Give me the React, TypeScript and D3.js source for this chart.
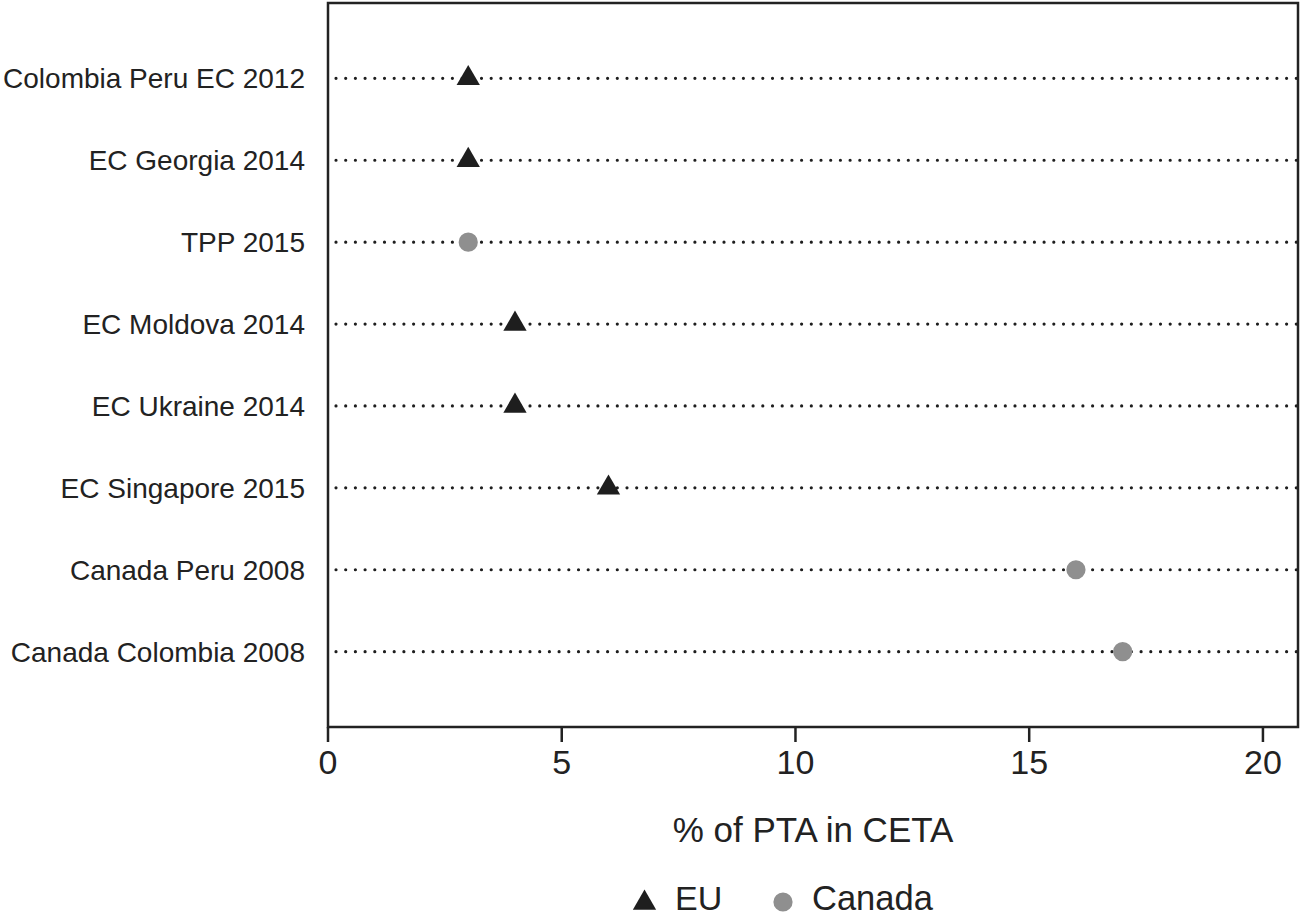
import React from "react";
import * as d3 from "d3";

const categories = [
  "Colombia Peru EC 2012",
  "EC Georgia 2014",
  "TPP 2015",
  "EC Moldova 2014",
  "EC Ukraine 2014",
  "EC Singapore 2015",
  "Canada Peru 2008",
  "Canada Colombia 2008",
];
const values = [3, 3, 3, 4, 4, 6, 16, 17];
const groups = ["EU", "EU", "Canada", "EU", "EU", "EU", "Canada", "Canada"];
const xTicks = [0, 5, 10, 15, 20];
const legendItems = ["EU", "Canada"];
const axisTitle = "% of PTA in CETA";

const W = 1303;
const H = 918;
const left = 328;
const right = 1298;
const top = 3;
const bottom = 727;
const FONT = "'Liberation Sans', Arial, Helvetica, sans-serif";
const DARK = "#1e1e1e";
const GRAY = "#8f8f8f";

export default function App() {
  const x = d3.scaleLinear().domain([0, 20.75]).range([left, right]);
  const y = d3.scalePoint<string>().domain(categories).range([top, bottom]).padding(0.92);
  const tri = d3.symbol().type(d3.symbolTriangle).size(235)()!;
  const circ = d3.symbol().type(d3.symbolCircle).size(290)()!;

  return (
    <svg
      width={W}
      height={H}
      style={{ position: "absolute", left: 0, top: 0, background: "#fff" }}
      fontFamily={FONT}
    >
      <rect x={0} y={0} width={W} height={H} fill="#fff" />
      {/* dotted guide lines */}
      {categories.map((c) => (
        <line
          key={"g" + c}
          x1={336}
          x2={right}
          y1={y(c)}
          y2={y(c)}
          stroke={DARK}
          strokeWidth={3.2}
          strokeLinecap="round"
          strokeDasharray="0 9.7"
        />
      ))}
      {/* category labels */}
      {categories.map((c) => (
        <text
          key={"l" + c}
          x={305}
          y={(y(c) as number) + 10}
          textAnchor="end"
          fontSize={28}
          fill="#222"
        >
          {c}
        </text>
      ))}
      {/* markers */}
      {categories.map((c, i) => (
        <path
          key={"m" + c}
          d={groups[i] === "EU" ? tri : circ}
          transform={`translate(${x(values[i])},${y(c)})`}
          fill={groups[i] === "EU" ? DARK : GRAY}
        />
      ))}
      {/* frame */}
      <rect
        x={left}
        y={top}
        width={right - left}
        height={bottom - top}
        fill="none"
        stroke="#222"
        strokeWidth={2.5}
      />
      {/* x ticks */}
      {xTicks.map((t) => (
        <g key={"t" + t}>
          <line x1={x(t)} x2={x(t)} y1={bottom} y2={742} stroke="#222" strokeWidth={2.5} />
          <text x={x(t)} y={774} textAnchor="middle" fontSize={34} fill="#222">
            {t}
          </text>
        </g>
      ))}
      <text x={(left + right) / 2} y={842} textAnchor="middle" fontSize={35} fill="#222">
        {axisTitle}
      </text>
      {/* legend */}
      <path d={tri} transform="translate(644.5,903)" fill={DARK} />
      <text x={675} y={910} fontSize={34} fill="#222">
        {legendItems[0]}
      </text>
      <path d={circ} transform="translate(783,902)" fill={GRAY} />
      <text x={812} y={910} fontSize={34.5} fill="#222">
        {legendItems[1]}
      </text>
    </svg>
  );
}
